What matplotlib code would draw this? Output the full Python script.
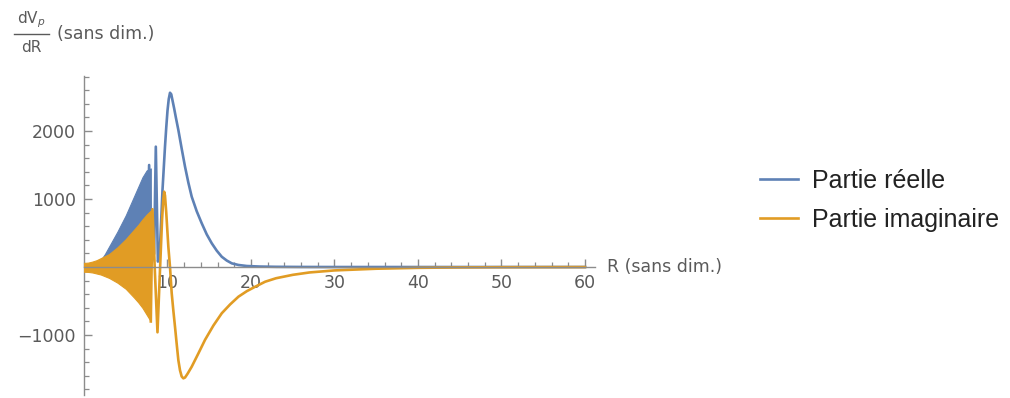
import numpy as np
import matplotlib
matplotlib.use("Agg")
import matplotlib.pyplot as plt
from matplotlib.lines import Line2D
from matplotlib.ticker import MultipleLocator, FixedLocator

# --- zone oscillante (R < 8) : enveloppes des oscillations rapides ---
R_osc = [0.0, 0.5, 1.0, 1.5, 2.0, 2.5, 3.0, 3.5, 4.0, 4.5, 5.0, 5.5, 6.0, 6.5, 7.0, 7.5, 8.0]
reel_haut = [5, 10, 30, 60, 100, 190, 300, 410, 520, 640, 760, 900, 1040, 1180, 1320, 1420, 1450]
imag_haut = [60, 65, 80, 100, 130, 160, 190, 240, 290, 350, 410, 480, 550, 620, 700, 770, 830]
imag_bas = [-70, -72, -80, -95, -110, -135, -160, -195, -230, -275, -320, -385, -450, -520, -600, -700, -800]

# --- fin de la zone oscillante + pic principal + décroissance ---
R_reel = [7.5, 7.8, 8.1, 8.4, 8.6, 8.85, 9.05, 9.25, 9.4, 9.55, 9.7, 9.85, 10.0, 10.15,
          10.3, 10.45, 10.6, 10.8, 11.0, 11.3, 11.7, 12.1, 12.5, 12.9, 13.5, 14.1,
          14.7, 15.3, 15.9, 16.5, 17.1, 17.7, 18.5, 19.5, 21, 23, 26, 30, 40, 50, 60]
V_reel = [100, 1500, 60, 200, 1770, 80, 150, 700, 1130, 1450, 1770, 2050, 2300, 2470,
          2563, 2540, 2450, 2330, 2200, 2015, 1740, 1475, 1240, 1034, 820, 643,
          480, 349, 240, 151, 95, 54, 30, 15, 7, 3, 1, 0, 0, 0, 0]

R_imag = [8.0, 8.2, 8.5, 8.8, 9.1, 9.35, 9.5, 9.6, 9.7, 9.85, 10.1, 10.3, 10.5, 10.7,
          10.9, 11.1, 11.3, 11.5, 11.7, 11.9, 12.1, 12.4, 12.9, 13.7, 14.5, 15.5,
          16.5, 17.5, 18.5, 19.5, 20.5, 21.7, 23, 25, 27, 30, 35, 40, 45, 50, 60]
V_imag = [-800, 850, -100, -960, -50, 700, 1000, 1107, 1050, 800, 300, 0, -380, -640,
          -880, -1130, -1370, -1520, -1610, -1637, -1625, -1570, -1466, -1270, -1070, -860,
          -680, -550, -436, -355, -290, -216, -165, -115, -80, -50, -25, -12, -6, -3, -1]

bleu = '#5E81B5'
orange = '#E19C24'
gris = '#5a5a5a'

plt.rcParams['font.family'] = ['DejaVu Sans']

fig = plt.figure(figsize=(10.1, 3.98), dpi=100)
ax = fig.add_axes([84 / 1010, 1 - 395 / 398, (595 - 84) / 1010, (395 - 76) / 398])

# partie réelle
ax.fill_between(R_osc, 0, reel_haut, color=bleu, lw=0.8, zorder=2)
ax.plot(R_reel, V_reel, color=bleu, lw=1.9, zorder=2, solid_joinstyle='round')
# partie imaginaire
ax.fill_between(R_osc, imag_bas, imag_haut, color=orange, lw=0.8, zorder=3)
ax.plot(R_imag, V_imag, color=orange, lw=1.9, zorder=3, solid_joinstyle='round')

ax.set_xlim(0, 61.2)
ax.set_ylim(-1882, 2809)

# axes façon Mathematica : croisement à l'origine
for s in ['top', 'right']:
    ax.spines[s].set_visible(False)
ax.spines['bottom'].set_position(('data', 0))
ax.spines['left'].set_position(('data', 0))
for s in ['bottom', 'left']:
    ax.spines[s].set_color('#8c8c8c')
    ax.spines[s].set_linewidth(1.0)
ax.spines['bottom'].set_zorder(4)

ax.xaxis.set_major_locator(FixedLocator([10, 20, 30, 40, 50, 60]))
ax.xaxis.set_minor_locator(MultipleLocator(2))
ax.set_xticklabels(['10', '20', '30', '40', '50', '60'])
ax.yaxis.set_major_locator(FixedLocator([-1000, 1000, 2000]))
ax.yaxis.set_minor_locator(MultipleLocator(200))
ax.set_yticklabels(['\u22121000', '1000', '2000'])

ax.tick_params(which='both', direction='in', color='#8c8c8c', labelcolor=gris,
               labelsize=12.5)
ax.tick_params(which='major', length=6, width=1.0)
ax.tick_params(which='minor', length=3.5, width=0.9)
ax.tick_params(axis='x', pad=5)
ax.tick_params(axis='y', pad=6)

# étiquettes des axes
fig.text(607 / 1010, 1 - 267 / 398, 'R (sans dim.)', color=gris, fontsize=12.5,
         va='center', ha='left')
fig.text(31 / 1010, 1 - 20 / 398, r'$\mathrm{dV}_{p}$', color=gris, fontsize=11,
         ha='center', va='center')
fig.add_artist(Line2D([14 / 1010, 49 / 1010], [1 - 34 / 398, 1 - 34 / 398],
                      color=gris, lw=1.0))
fig.text(31 / 1010, 1 - 48 / 398, 'dR', color=gris, fontsize=11,
         ha='center', va='center')
fig.text(57 / 1010, 1 - 34 / 398, '(sans dim.)', color=gris, fontsize=12.5,
         ha='left', va='center')

# légende
poignees = [Line2D([], [], color=bleu, lw=1.9), Line2D([], [], color=orange, lw=1.9)]
fig.legend(poignees, ['Partie réelle', 'Partie imaginaire'], loc='center left',
           bbox_to_anchor=(760 / 1010, 1 - 200.5 / 398), frameon=False,
           prop={'family': 'Liberation Sans', 'size': 18}, labelcolor='#222222',
           handlelength=1.52, handletextpad=0.56, labelspacing=0.6,
           borderpad=0, borderaxespad=0)

fig.savefig('out.png', dpi=100)
